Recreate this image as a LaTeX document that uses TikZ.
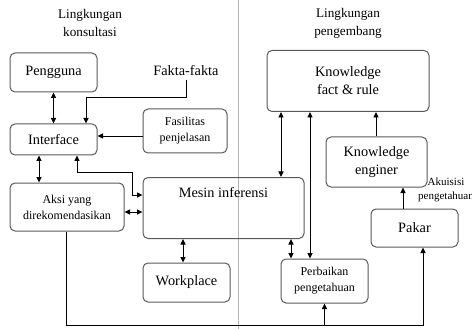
\documentclass[tikz,border=0pt]{standalone}
\usepackage{fontspec}
\setmainfont{Liberation Serif}
\usetikzlibrary{positioning,calc,arrows.meta}

\begin{document}
\begin{tikzpicture}[x=1pt, y=-1pt, >={Triangle[length=5.5pt,width=5pt]},
    box/.style={draw=black!65, line width=1pt, rounded corners=5pt, inner sep=0pt, align=center},
    big/.style={font=\fontsize{14.3}{18}\selectfont},
    small/.style={font=\fontsize{12}{16}\selectfont},
    link/.style={line width=0.9pt}]
    \useasboundingbox (0,0) rectangle (472,329);
    \draw [black!30, line width=1pt] (238,0) -- (238,329);

    \node [align=center, font=\fontsize{13.2}{18}\selectfont] (LK) at (90,23) {Lingkungan\\konsultasi};
    \node [align=center, font=\fontsize{13.2}{18}\selectfont] (LP) at (348,23) {Lingkungan\\pengembang};

    \node [box, big, minimum width=87, minimum height=39] (PG) at (53.5,72.5) {Pengguna};
    \node [big] (FF) at (186,71) {Fakta-fakta};
    \node [box, big, minimum width=87, minimum height=31] (IF) at (53.5,139.5) {Interface};
    \node [box, small, minimum width=84, minimum height=44] (FP) at (185,131) {Fasilitas\\penjelasan};
    \node [box, small, minimum width=114, minimum height=48] (AR) at (67,207) {Aksi yang\\direkomendasikan};
    \node [box, minimum width=161, minimum height=61, anchor=north] (MI) at (223.5,177) {};
    \node [big] (MT) at (223.5,193) {Mesin inferensi};
    \node [box, big, minimum width=87, minimum height=39] (WP) at (186.5,282.5) {Workplace};
    \node [box, big, minimum width=162, minimum height=61] (KF) at (348,81) {Knowledge\\fact \& rule};
    \node [box, big, minimum width=101, minimum height=50] (KE) at (376.5,162) {Knowledge\\enginer};
    \node [box, big, minimum width=87, minimum height=38] (PK) at (414.5,228) {Pakar};
    \node [box, small, minimum width=87, minimum height=44] (PP) at (324.5,281) {Perbaikan\\pengetahuan};
    \node [align=center, font=\fontsize{11}{14}\selectfont] (AP) at (446,190) {Akuisisi\\pengetahuan};

    \coordinate (FI) at (86,97);
    \coordinate (IM) at (132,172);
    \coordinate (BL) at (423,325);
    \coordinate (BP) at (PP.south |- BL);

    \draw [link, <->] (PG) -- (IF);
    \draw [link, ->] (FF.south) |- (FI) -- (FI |- IF.north);
    \draw [link, ->] (FP.west |- 0,136) -- (IF.east |- 0,136);
    \draw [link, <->] (IF.south -| 39,0) -- (AR.north -| 39,0);
    \draw [link, <->] (IF.south -| 77,0) |- (IM) |- (MI.west |- 0,195);
    \draw [link, <->] (AR.east |- 0,212) -- (MI.west |- 0,212);
    \draw [link, <->] (MI.south -| 183,0) -- (WP.north -| 183,0);
    \draw [link, <->] (KF.south -| 281,0) -- (MI.north -| 281,0);
    \draw [link, <->] (KF.south -| 310,0) -- (PP.north -| 310,0);
    \draw [link, <->] (MI.south -| 291,0) -- (PP.north -| 291,0);
    \draw [link, ->] (KE.north -| 376,0) -- (KF.south -| 376,0);
    \draw [link, ->] (PK.north -| 403,0) -- (KE.south -| 403,0);
    \draw [link, ->] (AR.south -| 66,0) |- (BL) -- (BL |- PK.south);
    \draw [link, ->] (BP) -- (PP.south);
\end{tikzpicture}
\end{document}
